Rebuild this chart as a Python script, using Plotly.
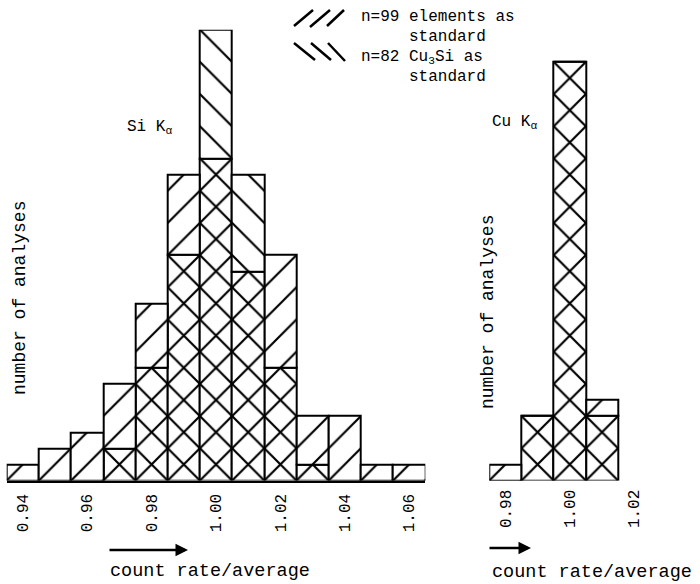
import math
import plotly.graph_objects as go

# ---------------- data ----------------
si_bins = [0.94, 0.95, 0.96, 0.97, 0.98, 0.99, 1.00, 1.01, 1.02, 1.03, 1.04, 1.05, 1.06]
si_elements = [1, 2, 3, 6, 11, 19, 20, 13, 14, 4, 4, 1, 1]      # /// n=99 elements as standard
si_cu3si = [0, 0, 0, 2, 7, 14, 28, 19, 7, 1, 0, 0, 0]           # \\\ n=82 Cu3Si as standard

cu_bins = [0.98, 0.99, 1.00, 1.01]
cu_elements = [1, 4, 26, 5]
cu_cu3si = [0, 4, 26, 4]

si_tickvals = [0.94, 0.96, 0.98, 1.00, 1.02, 1.04, 1.06]
si_ticktext = ["0.94", "0.96", "0.98", "1.00", "1.02", "1.04", "1.06"]
cu_tickvals = [0.98, 1.00, 1.02]
cu_ticktext = ["0.98", "1.00", "1.02"]

BIN = 0.01
FONT = "Liberation Mono"

# ---------------- geometry (pixels of the 700x584 page) ----------------
W, H = 700, 584
binpx = 32.2
base_px = 480.5
top_px = base_px - 28 * binpx / 2
left_x0 = 6.7
left_x1 = left_x0 + 13 * binpx
right_x0 = 489.3
right_x1 = 657.0
line_x0 = 472.0

def px(x):
    return x / W

def py(y):
    return 1 - y / H

tile = binpx
psize = tile / math.sqrt(2)
sol_single = 2.2 / psize
sol_cross = 1 - (1 - 2.2 / psize) ** 2


def hist_traces(bins, a, b, xa, ya):
    low = [min(p, q) for p, q in zip(a, b)]
    diff = [max(p, q) - min(p, q) for p, q in zip(a, b)]
    shapes = ["/" if p >= q else "\\" for p, q in zip(a, b)]
    line = dict(color="black", width=2)
    t1 = go.Bar(
        x=bins, y=low, width=BIN, xaxis=xa, yaxis=ya,
        marker=dict(color="white", line=line,
                    pattern=dict(shape="x", size=psize, solidity=sol_cross,
                                 fgcolor="black", bgcolor="white", fillmode="replace")),
        cliponaxis=False, showlegend=False, hoverinfo="skip",
    )
    t2 = go.Bar(
        x=bins, y=diff, base=low, width=BIN, xaxis=xa, yaxis=ya,
        marker=dict(color="white", line=line,
                    pattern=dict(shape=shapes, size=psize, solidity=sol_single,
                                 fgcolor="black", bgcolor="white", fillmode="replace")),
        cliponaxis=False, showlegend=False, hoverinfo="skip",
    )
    return [t1, t2]


fig = go.Figure()
for t in hist_traces(si_bins, si_elements, si_cu3si, "x", "y"):
    fig.add_trace(t)
for t in hist_traces(cu_bins, cu_elements, cu_cu3si, "x2", "y2"):
    fig.add_trace(t)

ydom = [py(base_px), py(top_px)]
common_x = dict(showgrid=False, zeroline=False, ticks="", tickangle=-90,
                tickfont=dict(family=FONT, size=16, color="black"),
                ticklabelstandoff=5,
                linecolor="black", linewidth=2, fixedrange=True)
common_y = dict(visible=False, range=[0, 28], fixedrange=True)

fig.update_layout(
    width=W, height=H,
    margin=dict(l=0, r=0, t=0, b=0),
    paper_bgcolor="white", plot_bgcolor="white",
    barmode="overlay", bargap=0,
    font=dict(family=FONT, color="black"),
    xaxis=dict(common_x, domain=[px(left_x0), px(left_x1)], range=[0.935, 1.065],
               showline=True, tickvals=si_tickvals, ticktext=si_ticktext, anchor="y"),
    yaxis=dict(common_y, domain=ydom, anchor="x"),
    xaxis2=dict(common_x, domain=[px(right_x0), px(right_x1)],
                range=[0.975, 0.975 + (right_x1 - right_x0) / binpx * BIN],
                showline=False, tickvals=cu_tickvals, ticktext=cu_ticktext, anchor="y2"),
    yaxis2=dict(common_y, domain=ydom, anchor="x2"),
    xaxis3=dict(domain=[px(line_x0), px(right_x1)], range=[0, 1], showline=True,
                linecolor="black", linewidth=2, showgrid=False, zeroline=False,
                showticklabels=False, ticks="", anchor="y3", fixedrange=True),
    yaxis3=dict(common_y, domain=ydom, anchor="x3"),
)

ann = []
def text(x, y, s, size, xanchor="center", angle=0):
    ann.append(dict(x=px(x), y=py(y), xref="paper", yref="paper", text=s,
                    showarrow=False, xanchor=xanchor, yanchor="middle", textangle=angle,
                    borderpad=0,
                    font=dict(family=FONT, size=size, color="black")))

text(20, 298, "number of analyses", 18, angle=-90)
text(488, 312, "number of analyses", 18, angle=-90)
text(210, 571, "count rate/average", 18.5)
text(592, 572, "count rate/average", 18.5)
text(126, 127, "Si K<sub>α</sub>", 16, xanchor="left")
text(491, 122, "Cu K<sub>α</sub>", 16, xanchor="left")
text(360, 17, "n=99 elements as", 16, xanchor="left")
text(408, 37, "standard", 16, xanchor="left")
text(360, 58, "n=82 Cu<sub>3</sub>Si as", 16, xanchor="left")
text(408, 77, "standard", 16, xanchor="left")

for hx, tx, yy in [(188, 108, 550), (531, 488, 548)]:
    ann.append(dict(x=px(hx), y=py(yy), xref="paper", yref="paper", text="",
                    showarrow=True, ax=tx - hx, ay=0, arrowhead=2, arrowsize=1,
                    arrowwidth=2.5, arrowcolor="black"))
fig.update_layout(annotations=ann)

shapes = []
for (x0, y0, x1, y1) in [(294, 26, 313, 10), (310, 27, 330, 10), (327, 26, 344, 10),
                         (294, 43, 315, 60), (311, 43, 331, 60), (328, 43, 345, 61)]:
    shapes.append(dict(type="line", xref="paper", yref="paper",
                       x0=px(x0), y0=py(y0), x1=px(x1), y1=py(y1),
                       line=dict(color="black", width=2.5)))
fig.update_layout(shapes=shapes)

fig.write_html("out.html", config={"displayModeBar": False},
               post_script="document.body.style.margin='0';document.body.style.padding='0';")
